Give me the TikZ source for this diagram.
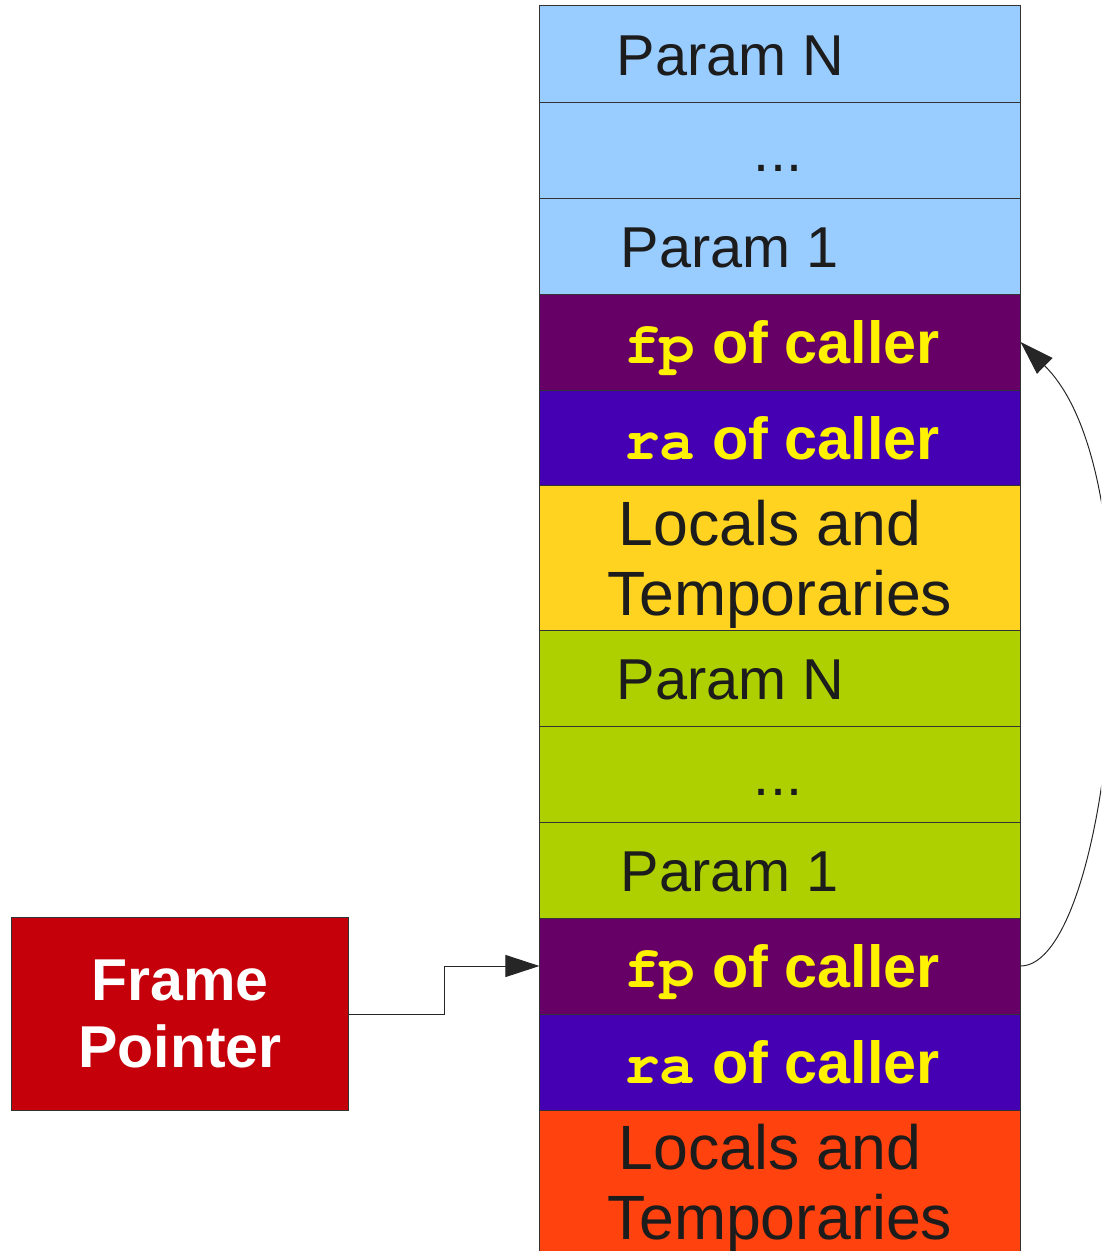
\documentclass[tikz,border=0pt]{standalone}
\usepackage{fontspec}
\setmainfont{Liberation Sans}
\setmonofont{Liberation Mono}
\usetikzlibrary{arrows.meta, calc}

\definecolor{paramblue}{HTML}{99CCFF}
\definecolor{fpcol}{HTML}{660066}
\definecolor{racol}{HTML}{4600B4}
\definecolor{localsyel}{HTML}{FFD320}
\definecolor{paramgrn}{HTML}{AECF00}
\definecolor{localsred}{HTML}{FF420E}
\definecolor{framered}{HTML}{C5000B}
\definecolor{textgray}{HTML}{1C1C1C}

% Courier-like code face for register names
\newcommand{\reg}[1]{{\fontencoding{T1}\fontfamily{pcr}\bfseries\selectfont #1}}

\begin{document}
\begin{tikzpicture}[x=0.025cm, y=-0.025cm,
    slot/.style={draw=black!80, line width=0.7pt, inner sep=0pt,
        minimum width=12cm, minimum height=2.4cm},
    tall/.style={minimum height=3.6cm},
    txt/.style={inner sep=0pt, anchor=base, text=textgray,
        font=\fontsize{41}{47}\selectfont},
    big/.style={font=\fontsize{44.5}{50}\selectfont},
    hot/.style={text=yellow, font=\fontsize{42.2}{48}\selectfont\bfseries},
    ptr/.style={line width=0.7pt, draw=black!85,
        -{Triangle[length=0.85cm, width=0.55cm]}}]
    \useasboundingbox (0,0) rectangle (1101,1251);
    \clip (0,0) rectangle (1101,1251);

    % caller's frame
    \node[slot, fill=paramblue] (pnA) at (780,54) {};
    \node[slot, fill=paramblue] (dotsA) at (780,150) {};
    \node[slot, fill=paramblue] (p1A) at (780,246) {};
    \node[slot, fill=fpcol] (fpA) at (780,342) {};
    \node[slot, fill=racol] (raA) at (780,438) {};
    \node[slot, tall, fill=localsyel] (locA) at (780,558) {};

    % current frame
    \node[slot, fill=paramgrn] (pnB) at (780,678) {};
    \node[slot, fill=paramgrn] (dotsB) at (780,774) {};
    \node[slot, fill=paramgrn] (p1B) at (780,870) {};
    \node[slot, fill=fpcol] (fpB) at (780,966) {};
    \node[slot, fill=racol] (raB) at (780,1062) {};
    \node[slot, tall, fill=localsred] (locB) at (780,1182) {};

    \node[txt, anchor=base west] at ($(pnA.west)+(77,21)$) {Param N};
    \node[txt] at ($(dotsA)+(-2,21)$) {...};
    \node[txt, anchor=base west] at ($(p1A.west)+(81,21)$) {Param 1};
    \node[txt, hot] at ($(fpA)+(2,21)$) {\reg{fp} of caller};
    \node[txt, hot] at ($(raA)+(2,21)$) {\reg{ra} of caller};
    \node[txt, big] at ($(locA)+(-10,-13)$) {Locals and};
    \node[txt, big] at ($(locA)+(0,57)$) {Temporaries};

    \node[txt, anchor=base west] at ($(pnB.west)+(77,21)$) {Param N};
    \node[txt] at ($(dotsB)+(-2,21)$) {...};
    \node[txt, anchor=base west] at ($(p1B.west)+(81,21)$) {Param 1};
    \node[txt, hot] at ($(fpB)+(2,21)$) {\reg{fp} of caller};
    \node[txt, hot] at ($(raB)+(2,21)$) {\reg{ra} of caller};
    \node[txt, big] at ($(locB)+(-10,-13)$) {Locals and};
    \node[txt, big] at ($(locB)+(0,57)$) {Temporaries};

    \node[draw=black!80, line width=0.7pt, fill=framered, text=white,
        minimum width=8.4cm, minimum height=4.8cm, align=center,
        font=\fontsize{42}{47}\selectfont\bfseries] (frame) at (180,1014)
        {Frame\\Pointer};

    \coordinate (knee) at (444,1014);
    \draw[ptr] (frame.east) -- (knee) |- (fpB.west);
    \draw[ptr] (fpB.east) .. controls +(90,0) and +(140,138) .. (fpA.east);
\end{tikzpicture}
\end{document}
